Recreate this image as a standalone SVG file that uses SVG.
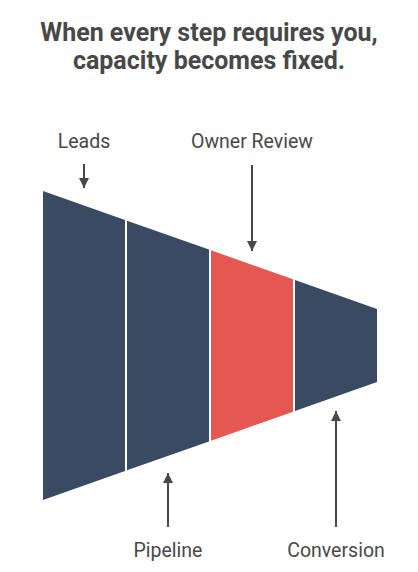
<svg xmlns="http://www.w3.org/2000/svg" width="418" height="572" viewBox="0 0 418 572">
<style>
.title{font-family:Roboto,"Liberation Sans",sans-serif;font-weight:bold;font-size:25px;fill:#484848;text-anchor:middle}
.lbl{font-family:Roboto,"Liberation Sans",sans-serif;font-size:19.5px;fill:#484848;text-anchor:middle}
.dark{fill:#3A4A63}
.red{fill:#E55751}
.conn{stroke:#484848;stroke-width:2;fill:none;marker-end:url(#ah)}
</style>
<defs>
<marker id="ah" viewBox="0 0 10 10" refX="10" refY="5" markerWidth="5" markerHeight="5" markerUnits="strokeWidth" orient="auto">
<path d="M0,0 L10,5 L0,10 Z" fill="#484848"/>
</marker>
</defs>
<rect width="418" height="572" fill="#ffffff"/>
<g id="title">
<text class="title" x="209" y="41">When every step requires you,</text>
<text class="title" x="209" y="69">capacity becomes fixed.</text>
</g>
<g id="leads">
<polygon class="dark" points="43,191 125,220 125,471 43,500"/>
<text class="lbl" x="84" y="148">Leads</text>
</g>
<g id="pipeline">
<polygon class="dark" points="127,220.7 209,249.6 209,441.4 127,470.3"/>
<text class="lbl" x="168" y="557">Pipeline</text>
</g>
<g id="owner-review">
<polygon class="red" points="211,250.3 293,279.3 293,411.7 211,440.7"/>
<text class="lbl" x="252" y="148">Owner Review</text>
</g>
<g id="conversion">
<polygon class="dark" points="295,280 377,309 377,382 295,411"/>
<text class="lbl" x="336" y="557">Conversion</text>
</g>
<g id="connectors">
<line class="conn" x1="84" y1="164" x2="84" y2="188"/>
<line class="conn" x1="252" y1="165" x2="252" y2="251"/>
<line class="conn" x1="168" y1="527" x2="168" y2="473"/>
<line class="conn" x1="336" y1="527" x2="336" y2="411"/>
</g>
</svg>
